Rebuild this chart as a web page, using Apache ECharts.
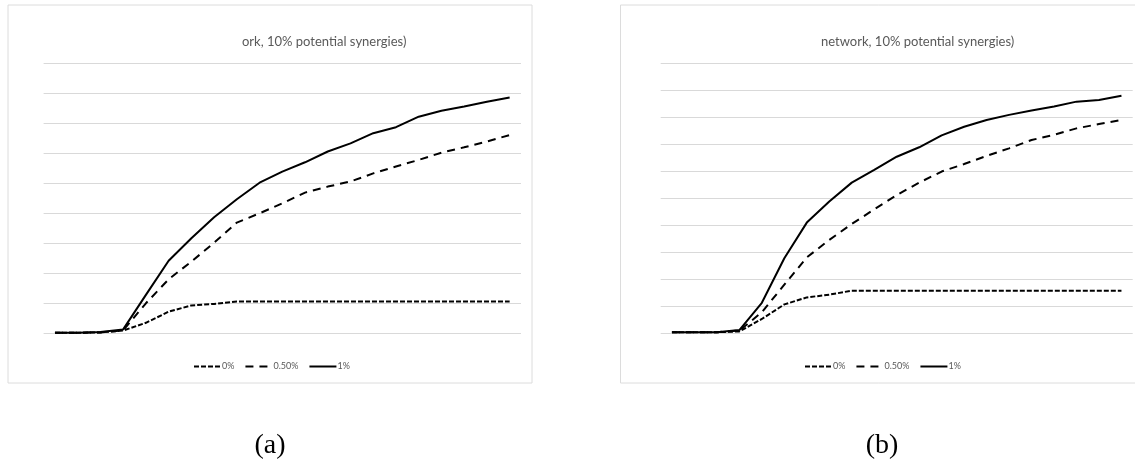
<!DOCTYPE html>
<html>
<head>
<meta charset="utf-8">
<script src="https://cdn.jsdelivr.net/npm/echarts@6/dist/echarts.min.js"></script>
<style>
  html, body { margin: 0; padding: 0; background: #ffffff; }
  #chart { width: 1135px; height: 463px; }
</style>
</head>
<body>
<div id="chart"></div>
<script>
// Time steps along the horizontal axis (labels are not drawn)
const steps = ['1','2','3','4','5','6','7','8','9','10','11','12','13','14','15','16','17','18','19','20','21'];

// Series names (legend entries)
const seriesNames = ['0%', '0.50%', '1%'];

// Panel (a)
const panelA_0 = [0.02, 0.02, 0.03, 0.09, 0.35, 0.72, 0.93, 0.98, 1.06, 1.06, 1.06, 1.06, 1.06, 1.06, 1.06, 1.06, 1.06, 1.06, 1.06, 1.06, 1.06];
const panelA_05 = [0.02, 0.02, 0.03, 0.10, 1.00, 1.80, 2.39, 3.02, 3.69, 4.00, 4.33, 4.69, 4.89, 5.06, 5.33, 5.56, 5.78, 6.02, 6.20, 6.39, 6.61];
const panelA_1 = [0.02, 0.02, 0.04, 0.13, 1.28, 2.42, 3.17, 3.87, 4.47, 5.02, 5.39, 5.70, 6.06, 6.33, 6.67, 6.87, 7.22, 7.42, 7.56, 7.72, 7.86];

// Panel (b)
const panelB_0 = [0.04, 0.04, 0.04, 0.07, 0.53, 1.07, 1.33, 1.43, 1.58, 1.58, 1.58, 1.58, 1.58, 1.58, 1.58, 1.58, 1.58, 1.58, 1.58, 1.58, 1.58];
const panelB_05 = [0.04, 0.04, 0.04, 0.10, 0.78, 1.80, 2.81, 3.46, 4.05, 4.59, 5.12, 5.58, 5.99, 6.27, 6.57, 6.85, 7.16, 7.35, 7.59, 7.75, 7.90];
const panelB_1 = [0.04, 0.04, 0.04, 0.12, 1.13, 2.78, 4.10, 4.88, 5.58, 6.05, 6.54, 6.89, 7.33, 7.65, 7.90, 8.09, 8.25, 8.40, 8.58, 8.64, 8.80];

// Titles and panel captions
const titleA = 'ork, 10% potential synergies)';
const titleB = 'network, 10% potential synergies)';
const captionA = '(a)';
const captionB = '(b)';

// Value-axis ranges (gridline every unit)
const yMaxA = 9;
const yMaxB = 10;

const gridColor = '#d9d9d9';
const textGray = '#595959';
const dashStyles = [[5, 2], [8, 6], 'solid'];

function xAxisFor(gridIndex) {
  return {
    type: 'category', gridIndex: gridIndex, data: steps, boundaryGap: true,
    axisLine: { show: false }, axisTick: { show: false }, axisLabel: { show: false },
    splitLine: { show: false }
  };
}
function yAxisFor(gridIndex, max) {
  return {
    type: 'value', gridIndex: gridIndex, min: 0, max: max, interval: 1,
    axisLine: { show: false }, axisTick: { show: false }, axisLabel: { show: false },
    splitLine: { show: true, lineStyle: { color: gridColor, width: 1 } }
  };
}
function lineSeries(name, data, idx, axisIndex) {
  return {
    name: name, type: 'line', data: data,
    xAxisIndex: axisIndex, yAxisIndex: axisIndex,
    symbol: 'none', smooth: false, animation: false,
    lineStyle: { color: '#000000', width: 2, type: dashStyles[idx] },
    itemStyle: { color: '#000000' },
    z: 3 + idx
  };
}
function legendAt(left) {
  return {
    left: left, top: 362, orient: 'horizontal', padding: 0,
    itemWidth: 27, itemHeight: 10, itemGap: 10,
    data: seriesNames, selectedMode: false,
    itemStyle: { opacity: 0 },
    textStyle: { color: textGray, fontSize: 9, fontFamily: 'Lato, "Liberation Sans", sans-serif', padding: [0, 0, 0, -4] }
  };
}

const chart = echarts.init(document.getElementById('chart'), null, { renderer: 'canvas' });
chart.setOption({
  backgroundColor: '#ffffff',
  animation: false,
  grid: [
    { left: 43.6, top: 63.3, width: 477.4, height: 270, containLabel: false },
    { left: 660.7, top: 63.3, width: 472, height: 270, containLabel: false }
  ],
  xAxis: [xAxisFor(0), xAxisFor(1)],
  yAxis: [yAxisFor(0, yMaxA), yAxisFor(1, yMaxB)],
  legend: [legendAt(193), legendAt(804)],
  series: [
    lineSeries(seriesNames[0], panelA_0, 0, 0),
    lineSeries(seriesNames[1], panelA_05, 1, 0),
    lineSeries(seriesNames[2], panelA_1, 2, 0),
    lineSeries(seriesNames[0], panelB_0, 0, 1),
    lineSeries(seriesNames[1], panelB_05, 1, 1),
    lineSeries(seriesNames[2], panelB_1, 2, 1)
  ],
  graphic: [
    { type: 'rect', shape: { x: 8, y: 5, width: 524, height: 378 }, style: { fill: 'none', stroke: '#dcdcdc', lineWidth: 1 }, silent: true, z: 0 },
    { type: 'rect', shape: { x: 620.5, y: 5, width: 524, height: 378 }, style: { fill: 'none', stroke: '#dcdcdc', lineWidth: 1 }, silent: true, z: 0 },
    { type: 'text', left: 242, top: 35, style: { text: titleA, fill: textGray, font: '13px Lato, "Liberation Sans", sans-serif' }, silent: true },
    { type: 'text', left: 821, top: 35, style: { text: titleB, fill: textGray, font: '13px Lato, "Liberation Sans", sans-serif' }, silent: true },
    { type: 'text', x: 270, y: 446, style: { text: captionA, fill: '#000000', font: '28px "Liberation Serif", "DejaVu Serif", serif', textAlign: 'center', textVerticalAlign: 'middle' }, silent: true },
    { type: 'text', x: 882, y: 446, style: { text: captionB, fill: '#000000', font: '28px "Liberation Serif", "DejaVu Serif", serif', textAlign: 'center', textVerticalAlign: 'middle' }, silent: true }
  ]
});
</script>
</body>
</html>
